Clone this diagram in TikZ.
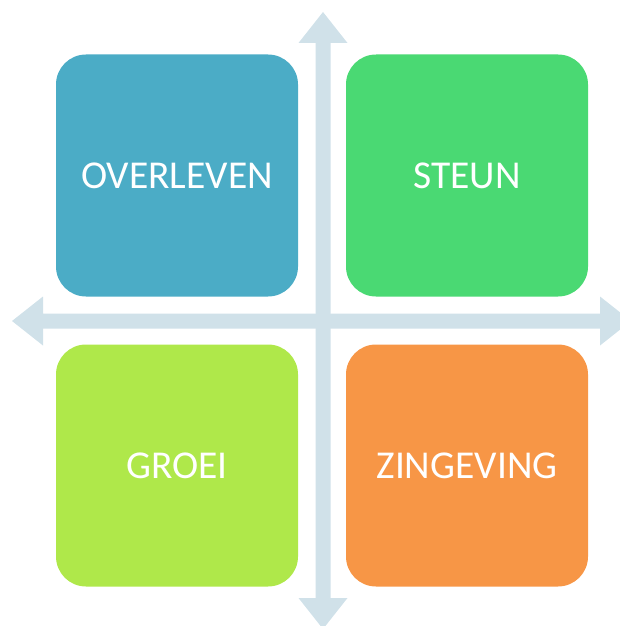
\documentclass[tikz,border=0pt]{standalone}
\usepackage{fontspec}
\setmainfont{Carlito}
\definecolor{axis}{HTML}{D0E1E9}
\definecolor{cblue}{HTML}{4BACC6}
\definecolor{cgreen}{HTML}{4AD973}
\definecolor{clime}{HTML}{AFE84A}
\definecolor{corange}{HTML}{F79646}
\tikzset{
  quad/.style={rounded corners=30pt, minimum width=242pt, minimum height=242pt,
    inner sep=0pt, text=white, font=\fontsize{39.5}{42}\selectfont, anchor=center},
}
\begin{document}
\begin{tikzpicture}[x=1pt,y=-1pt]
\useasboundingbox (0,0) rectangle (620,626);
% axes
\fill[axis] (315.5,43) -- (298.5,43) -- (323,12) -- (347.5,43) -- (330.5,43)
  -- (330.5,598) -- (347.5,598) -- (323,629) -- (298.5,598) -- (315.5,598) -- cycle;
\fill[axis] (43,313.5) -- (43,296.5) -- (12,321) -- (43,345.5) -- (43,328.5)
  -- (600,328.5) -- (600,345.5) -- (631,321) -- (600,296.5) -- (600,313.5) -- cycle;
% boxes
\node[quad, fill=cblue] (ov) at (177,175.5) {OVERLEVEN};
\node[quad, fill=cgreen] (st) at (467,175.5) {STEUN};
\node[quad, fill=clime] (gr) at (177,465.5) {GROEI};
\node[quad, fill=corange] (zi) at (467,465.5) {ZINGEVING};
\end{tikzpicture}
\end{document}
